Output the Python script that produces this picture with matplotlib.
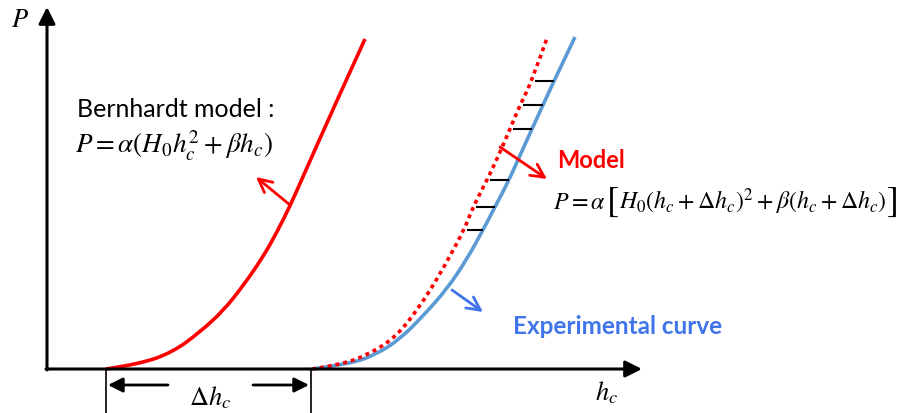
import numpy as np
import matplotlib.pyplot as plt
from matplotlib.path import Path
from matplotlib.patches import PathPatch

plt.rcParams['mathtext.fontset'] = 'stix'

# points, in pixel units (y grows downwards)
bern_x = [106, 140, 173, 200, 223, 243, 263, 277, 290, 302, 333, 365]
bern_y = [370, 365, 353, 333, 312, 287, 258, 233, 207, 180, 110, 40]

exp_x = [312, 350, 377, 400, 423, 447, 467, 483, 495, 509, 517, 532, 543, 554, 575]
exp_y = [370, 365, 355, 340, 317, 290, 260, 231, 208, 181, 163, 130, 106, 82, 38]

model_x = [312, 340, 370, 397, 420, 437, 450, 464, 473, 487, 497, 510, 520, 532, 547]
model_y = [370, 366, 355, 337, 307, 280, 257, 231, 208, 181, 160, 130, 106, 82, 39]

# little black gap markers between model and experiment
gap_y = [82, 106, 130, 181, 208, 231]
gap_x0 = [535, 523, 513, 490, 476, 467]
gap_x1 = [554, 543, 532, 509, 495, 483]

red = '#FF0000'
blue_line = '#5B9BD5'
blue_txt = '#3F74EA'


def smooth_path(xs, ys):
    # quadratic bezier through midpoints, read points act as control points
    pts = list(zip(xs, ys))
    verts = [pts[0]]
    codes = [Path.MOVETO]
    for i in range(1, len(pts) - 1):
        mid = ((pts[i][0] + pts[i + 1][0]) / 2, (pts[i][1] + pts[i + 1][1]) / 2)
        if i == len(pts) - 2:
            mid = pts[-1]
        verts += [pts[i], mid]
        codes += [Path.CURVE3, Path.CURVE3]
    return Path(verts, codes)


fig = plt.figure(figsize=(9.06, 4.14), dpi=100)
ax = fig.add_axes([0, 0, 1, 1])
ax.set_xlim(0, 906)
ax.set_ylim(414, 0)
ax.axis('off')

# axes with arrow heads
ax.annotate('', xy=(47, 8), xytext=(47, 371),
            arrowprops=dict(arrowstyle='-|>', color='black', lw=2.2,
                            mutation_scale=25, shrinkA=0, shrinkB=0))
ax.annotate('', xy=(642, 370), xytext=(46, 370),
            arrowprops=dict(arrowstyle='-|>', color='black', lw=2.2,
                            mutation_scale=25, shrinkA=0, shrinkB=0))
ax.text(20, 20, '$P$', fontsize=19, ha='center', va='center')
ax.text(607, 393, '$h_c$', fontsize=19, ha='center', va='center')

# curves
ax.add_patch(PathPatch(smooth_path(bern_x, bern_y), fill=False,
                       edgecolor=red, lw=2.6, capstyle='butt'))
ax.add_patch(PathPatch(smooth_path(exp_x, exp_y), fill=False,
                       edgecolor=blue_line, lw=2.6, capstyle='butt'))
ax.add_patch(PathPatch(smooth_path(model_x, model_y), fill=False,
                       edgecolor=red, lw=2.6, linestyle=(0, (1.1, 1.1))))
ax.hlines(gap_y, gap_x0, gap_x1, color='black', lw=1.5)

# pointer arrows
ax.annotate('', xy=(256, 178), xytext=(290, 206),
            arrowprops=dict(arrowstyle='->', color=red, lw=2,
                            mutation_scale=24, shrinkA=0, shrinkB=0))
ax.annotate('', xy=(547, 180), xytext=(500, 148),
            arrowprops=dict(arrowstyle='->', color=red, lw=2,
                            mutation_scale=24, shrinkA=0, shrinkB=0))
ax.annotate('', xy=(483, 313), xytext=(452, 291),
            arrowprops=dict(arrowstyle='->', color=blue_txt, lw=2,
                            mutation_scale=24, shrinkA=0, shrinkB=0))

# delta h_c dimension
ax.vlines([106, 311], 370, 414, color='black', lw=1.2)
ax.annotate('', xy=(108, 386), xytext=(168, 386),
            arrowprops=dict(arrowstyle='-|>', color='black', lw=2,
                            mutation_scale=22, shrinkA=0, shrinkB=0))
ax.annotate('', xy=(309, 386), xytext=(253, 386),
            arrowprops=dict(arrowstyle='-|>', color='black', lw=2,
                            mutation_scale=22, shrinkA=0, shrinkB=0))
ax.text(210, 398, r'$\Delta h_c$', fontsize=19, ha='center', va='center')

# labels
ax.text(77, 110, 'Bernhardt model :', fontsize=18, family='Lato',
        ha='left', va='center')
ax.text(75, 146, r'$P = \alpha(H_0 h_c^2 + \beta h_c)$', fontsize=19.5,
        ha='left', va='center')
ax.text(557, 161, 'Model', fontsize=17, family='Lato', weight='bold',
        color=red, ha='left', va='center')
ax.text(513, 327, 'Experimental curve', fontsize=17.5, family='Lato',
        weight='bold', color=blue_txt, ha='left', va='center')

# model formula, pieced together so the square brackets can be tall
renderer = fig.canvas.get_renderer()
parts = [(r'$P = \alpha$', 17.2, 0),
         (r'$[$', 26, 0),
         (r'$H_0\left(h_c + \Delta h_c\right)^2 + \beta\left(h_c + \Delta h_c\right)$', 17.2, 0),
         (r'$]$', 26, 0)]
x = 553
for s, size, pad in parts:
    x += pad
    t = ax.text(x, 202, s, fontsize=size, ha='left', va='center')
    bb = t.get_window_extent(renderer)
    x += bb.width

fig.savefig('out.png', dpi=100)
